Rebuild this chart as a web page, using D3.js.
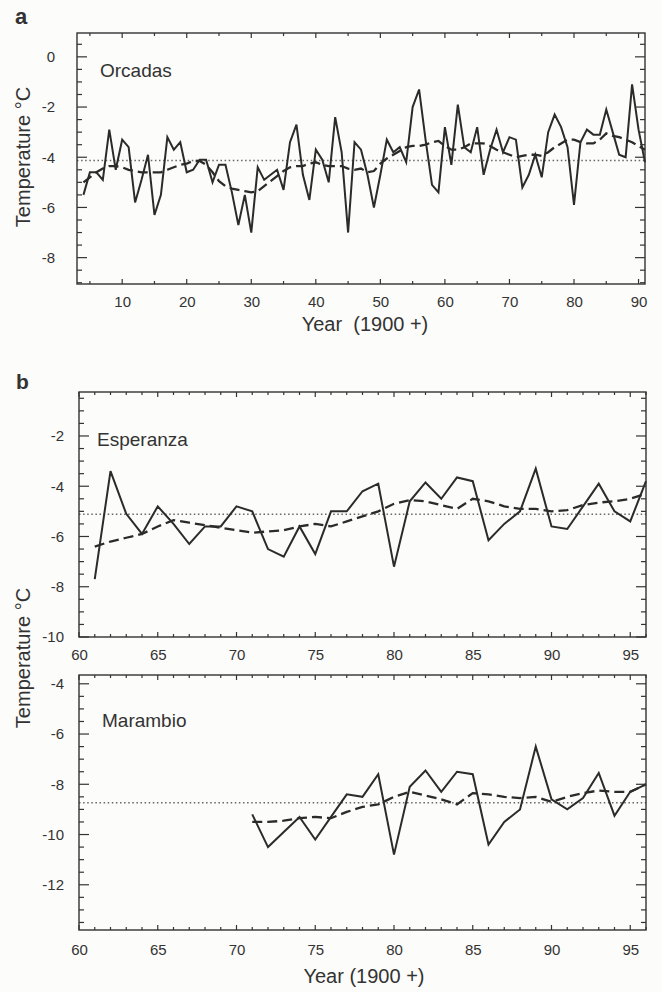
<!DOCTYPE html>
<html>
<head>
<meta charset="utf-8">
<script src="https://cdn.jsdelivr.net/npm/d3@7"></script>
<style>
  body { margin: 0; background: #fcfcfa; }
  svg { display: block; font-family: "Liberation Sans", Arial, sans-serif; }
  text { fill: #333; }
  .frame { fill: none; stroke: #333; stroke-width: 1.4; }
  .tk { stroke: #333; stroke-width: 1.2; }
  .obs { fill: none; stroke: #2b2b2b; stroke-width: 2; stroke-linejoin: miter; }
  .smooth { fill: none; stroke: #2b2b2b; stroke-width: 2.3; stroke-dasharray: 10 5; }
  .mean { stroke: #666; stroke-width: 1.5; stroke-dasharray: 1.5 2.6; }
</style>
</head>
<body>
<svg id="chart" width="662" height="992"></svg>
<script>
// years are 1900 +
const orcadasYears = d3.range(4, 92);
const orcadasTemp = [
  -5.5, -4.6, -4.6, -4.9, -2.9, -4.5, -3.3, -3.6, -5.8, -4.9,
  -3.9, -6.3, -5.5, -3.2, -3.7, -3.4, -4.6, -4.5, -4.1, -4.1,
  -5.0, -4.3, -4.3, -5.4, -6.7, -5.5, -7.0, -4.4, -4.9, -4.7,
  -4.5, -5.3, -3.4, -2.7, -4.7, -5.7, -3.7, -4.1, -5.0, -2.4,
  -3.8, -7.0, -3.4, -3.7, -4.7, -6.0, -4.7, -3.3, -3.8, -3.6,
  -4.2, -2.0, -1.3, -3.3, -5.1, -5.4, -2.8, -4.3, -1.9, -3.6,
  -3.8, -2.8, -4.7, -3.7, -2.9, -3.8, -3.2, -3.3, -5.2, -4.7,
  -3.9, -4.8, -3.0, -2.3, -2.8, -3.6, -5.9, -3.4, -2.9, -3.1,
  -3.1, -2.1, -3.0, -3.9, -4.0, -1.1, -2.9, -4.2
];
const orcadasSmooth = [
  -5.0, -4.8, -4.6, -4.45, -4.35, -4.35, -4.4, -4.5, -4.55, -4.6,
  -4.6, -4.6, -4.6, -4.5, -4.4, -4.3, -4.25, -4.15, -4.15, -4.3,
  -4.6, -4.95, -5.15, -5.25, -5.3, -5.35, -5.4, -5.35, -5.15, -4.95,
  -4.75, -4.55, -4.4, -4.35, -4.35, -4.25, -4.2, -4.3, -4.35, -4.35,
  -4.35, -4.45, -4.5, -4.45, -4.6, -4.55, -4.25, -4.05, -3.9, -3.75,
  -3.6, -3.55, -3.55, -3.5, -3.4, -3.35, -3.55, -3.7, -3.7, -3.6,
  -3.45, -3.45, -3.45, -3.55, -3.7, -3.8, -3.9, -4.0, -3.95, -3.9,
  -3.9, -3.95, -3.8, -3.6, -3.45, -3.3, -3.3, -3.4, -3.45, -3.45,
  -3.3, -3.05, -3.15, -3.2, -3.3, -3.4, -3.55, -3.7
];
const orcadasMean = -4.13;

const esperanzaYears = d3.range(61, 97);
const esperanzaTemp = [
  -7.7, -3.4, -5.1, -5.9, -4.8, -5.5, -6.3, -5.6, -5.6, -4.8,
  -5.0, -6.5, -6.8, -5.6, -6.7, -5.0, -5.0, -4.2, -3.9, -7.2,
  -4.6, -3.85, -4.5, -3.65, -3.8, -6.15, -5.5, -5.0, -3.3, -5.6,
  -5.7, -4.8, -3.9, -5.0, -5.4, -3.8
];
const esperanzaSmooth = [
  -6.4, -6.2, -6.05, -5.9, -5.6, -5.35, -5.45, -5.55, -5.65, -5.75,
  -5.85, -5.8, -5.75, -5.6, -5.5, -5.6, -5.4, -5.2, -5.0, -4.7,
  -4.55, -4.6, -4.75, -4.9, -4.5, -4.6, -4.8, -4.9, -4.9, -5.0,
  -4.95, -4.75, -4.65, -4.6, -4.5, -4.3
];
const esperanzaMean = -5.12;

const marambioYears = d3.range(71, 97);
const marambioTemp = [
  -9.2, -10.5, -9.9, -9.3, -10.2, -9.3, -8.4, -8.5, -7.6, -10.8,
  -8.1, -7.45, -8.3, -7.5, -7.6, -10.4, -9.5, -9.0, -6.5, -8.6,
  -9.0, -8.55, -7.55, -9.25, -8.3, -8.0
];
const marambioSmooth = [
  -9.5, -9.5, -9.45, -9.35, -9.3, -9.35, -9.1, -8.9, -8.8, -8.5,
  -8.3, -8.45, -8.6, -8.8, -8.35, -8.4, -8.5, -8.55, -8.5, -8.7,
  -8.5, -8.35, -8.25, -8.3, -8.3, -8.0
];
const marambioMean = -8.73;

const orcadasXTicks = [10, 20, 30, 40, 50, 60, 70, 80, 90];
const orcadasYTicks = [0, -2, -4, -6, -8];
const stationXTicks = [60, 65, 70, 75, 80, 85, 90, 95];
const esperanzaYTicks = [-2, -4, -6, -8, -10];
const marambioYTicks = [-4, -6, -8, -10, -12];

const svg = d3.select("#chart");

// inward tick marks on all four sides of the frame
function drawTicks(g, p, x, y) {
  const w = p.right - p.left, h = p.bottom - p.top;
  const minorX = d3.range(Math.ceil(p.xDomain[0] / p.xMinor) * p.xMinor, p.xDomain[1] + 0.01, p.xMinor);
  const minorY = d3.range(Math.ceil(p.yDomain[0] * 2) / 2, p.yDomain[1], 0.5);
  const xt = minorX.map(v => ({v, len: p.xTicks.includes(v) ? 5 : 3}));
  const yt = minorY.map(v => ({v, len: p.yTicks.includes(v) ? 10 : 5}));

  g.selectAll(".tkb").data(xt).join("line").attr("class", "tk")
    .attr("x1", d => x(d.v)).attr("x2", d => x(d.v))
    .attr("y1", h).attr("y2", d => h - d.len);
  g.selectAll(".tkt").data(xt).join("line").attr("class", "tk")
    .attr("x1", d => x(d.v)).attr("x2", d => x(d.v))
    .attr("y1", 0).attr("y2", d => d.len);
  g.selectAll(".tkl").data(yt).join("line").attr("class", "tk")
    .attr("y1", d => y(d.v)).attr("y2", d => y(d.v))
    .attr("x1", 0).attr("x2", d => d.len);
  g.selectAll(".tkr").data(yt).join("line").attr("class", "tk")
    .attr("y1", d => y(d.v)).attr("y2", d => y(d.v))
    .attr("x1", w).attr("x2", d => w - d.len);

  g.append("g").attr("transform", `translate(0,${h})`)
    .call(d3.axisBottom(x).tickValues(p.xTicks).tickSize(0).tickPadding(p.xPad).tickFormat(d => String(d)))
    .call(s => s.select(".domain").remove())
    .selectAll("text").style("font-size", "15px").attr("fill", "#333");

  g.append("g")
    .call(d3.axisLeft(y).tickValues(p.yTicks).tickSize(0).tickPadding(p.yPad).tickFormat(d => String(d)))
    .call(s => s.select(".domain").remove())
    .selectAll("text").style("font-size", "15px").attr("fill", "#333");
}

function drawPanel(p) {
  const w = p.right - p.left, h = p.bottom - p.top;
  const x = d3.scaleLinear().domain(p.xDomain).range([0, w]);
  const y = d3.scaleLinear().domain(p.yDomain).range([h, 0]);
  const g = svg.append("g").attr("transform", `translate(${p.left},${p.top})`);

  g.append("line").attr("class", "mean")
    .attr("x1", 0).attr("x2", w)
    .attr("y1", y(p.mean)).attr("y2", y(p.mean));

  const line = (vals) => d3.line()
    .x((d, i) => x(p.years[i]))
    .y(d => y(d))(vals);

  g.append("path").attr("class", "smooth").attr("d", line(p.smooth));
  g.append("path").attr("class", "obs").attr("d", line(p.temp));

  drawTicks(g, p, x, y);
  g.append("rect").attr("class", "frame").attr("width", w).attr("height", h);

  g.append("text")
    .attr("x", p.nameX - p.left).attr("y", p.nameY - p.top)
    .style("font-size", "19px")
    .text(p.name);
}

drawPanel({
  left: 77, right: 645, top: 33, bottom: 284,
  xDomain: [3, 91], yDomain: [-9.05, 0.95], xMinor: 5,
  xTicks: orcadasXTicks, yTicks: orcadasYTicks, xPad: 12, yPad: 22,
  years: orcadasYears, temp: orcadasTemp, smooth: orcadasSmooth, mean: orcadasMean,
  name: "Orcadas", nameX: 100, nameY: 77
});

drawPanel({
  left: 79, right: 646, top: 392, bottom: 637,
  xDomain: [60, 96], yDomain: [-10, -0.25], xMinor: 1,
  xTicks: stationXTicks, yTicks: esperanzaYTicks, xPad: 12, yPad: 15,
  years: esperanzaYears, temp: esperanzaTemp, smooth: esperanzaSmooth, mean: esperanzaMean,
  name: "Esperanza", nameX: 97, nameY: 446
});

drawPanel({
  left: 79, right: 646, top: 675, bottom: 930,
  xDomain: [60, 96], yDomain: [-13.8, -3.65], xMinor: 1,
  xTicks: stationXTicks, yTicks: marambioYTicks, xPad: 14, yPad: 15,
  years: marambioYears, temp: marambioTemp, smooth: marambioSmooth, mean: marambioMean,
  name: "Marambio", nameX: 102, nameY: 727
});

// panel letters
svg.append("text").attr("x", 15).attr("y", 24)
  .style("font-size", "22px").style("font-weight", "bold").text("a");
svg.append("text").attr("x", 16).attr("y", 389)
  .style("font-size", "21px").style("font-weight", "bold").text("b");

// axis titles
svg.append("text")
  .attr("transform", "translate(30,157) rotate(-90)")
  .attr("text-anchor", "middle").style("font-size", "20px")
  .text("Temperature °C");
svg.append("text")
  .attr("transform", "translate(30,658) rotate(-90)")
  .attr("text-anchor", "middle").style("font-size", "20px")
  .text("Temperature °C");
svg.append("text")
  .attr("x", 365).attr("y", 331).attr("text-anchor", "middle")
  .style("font-size", "20px").style("white-space", "pre")
  .text("Year  (1900 +)");
svg.append("text")
  .attr("x", 364).attr("y", 983).attr("text-anchor", "middle")
  .style("font-size", "20px")
  .text("Year (1900 +)");
</script>
</body>
</html>
